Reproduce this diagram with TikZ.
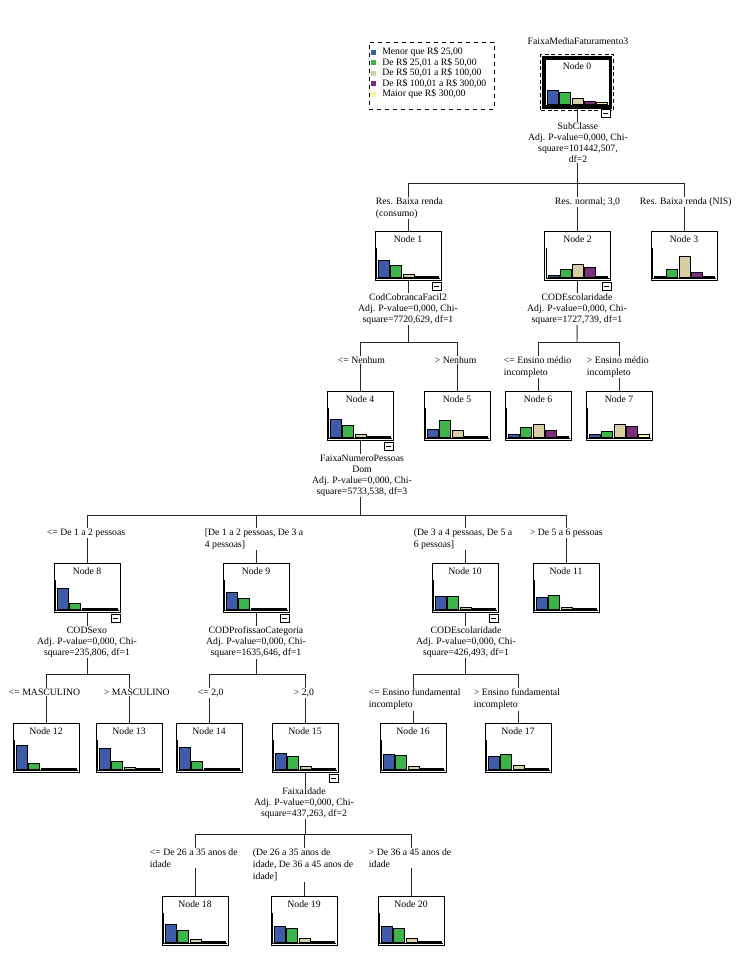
\documentclass[tikz,border=0pt]{standalone}
\usepackage{fontspec}
\setmainfont{Liberation Serif}
\usetikzlibrary{calc}
\definecolor{cb}{HTML}{3D5BA9}
\definecolor{cg}{HTML}{3DB54A}
\definecolor{ct}{HTML}{D6CFA3}
\definecolor{cp}{HTML}{7A2E7E}
\definecolor{cy}{HTML}{F9F59A}
\tikzset{
  nbox/.style={draw=black, line width=0.7pt, fill=white, minimum width=49.5pt, minimum height=36.75pt, inner sep=0pt},
  ntitle/.style={font=\fontsize{7.3}{8.25}\selectfont, inner sep=0pt},
  axisline/.style={draw=black, line width=0.7pt},
  barline/.style={draw=black, line width=0.55pt},
  mbox/.style={draw=black, line width=0.55pt, fill=white},
  edge/.style={draw=black!85, line width=0.7pt},
  split/.style={font=\fontsize{7.3}{8.25}\selectfont, align=center, fill=white, inner sep=0.5pt, anchor=north},
  elabel/.style={font=\fontsize{7.3}{9}\selectfont, align=left, fill=white, inner sep=0.5pt, anchor=north west},
  legtext/.style={font=\fontsize{7.3}{8.25}\selectfont, inner sep=0pt, anchor=west},
  legsq/.style={minimum size=3.75pt, inner sep=0pt, draw=none}
}
\newcommand{\treebox}[9]{%
  \node[nbox] (#1) at (#2,#3+24.5) {};
  \node[ntitle] (#1t) at ($(#1.north)+(0,8.5)$) {Node #4};
  \draw[axisline] ($(#1.south west)+(2,-32)$) |- ($(#1.south east)+(-1,-2)$);
  \draw[barline,fill=cb] ($(#1.south west)+(4,-3)$) rectangle ++(11,-#5);
  \draw[barline,fill=cg] ($(#1.south west)+(16.2,-3)$) rectangle ++(11,-#6);
  \draw[barline,fill=ct] ($(#1.south west)+(28.4,-3)$) rectangle ++(11,-#7);
  \draw[barline,fill=cp] ($(#1.south west)+(40.6,-3)$) rectangle ++(11,-#8);
  \draw[barline,fill=cy] ($(#1.south west)+(52.8,-3)$) rectangle ++(11,-#9);
}
\newcommand{\minusbox}[1]{%
  \draw[mbox] ($(#1.south east)+(-9,2)$) rectangle ++(9,8);
  \draw[line width=0.55pt] ($(#1.south east)+(-7,6)$) -- ++(5,0);
}
\begin{document}
\begin{tikzpicture}[x=0.75pt,y=-0.75pt]
\useasboundingbox (0,0) rectangle (737,979);
% bar coordinates
\coordinate (b0) at (577,183);
\coordinate (b1) at (408,342);
\coordinate (b2) at (577,342);
\coordinate (b4) at (360,515);
\coordinate (b8) at (87,674);
\coordinate (b9) at (256,674);
\coordinate (b10) at (465,674);
\coordinate (b15) at (305,834);
% nodes
\treebox{n0}{577}{58}{0}{14}{12}{6}{3}{2}
\treebox{n1}{408}{231}{1}{17}{12}{3}{1}{1}
\treebox{n2}{577.5}{231}{2}{2}{8}{13}{10}{1}
\treebox{n3}{684}{231}{3}{1}{8}{21}{5}{1}
\treebox{n4}{360}{391}{4}{18}{12}{3}{1}{1}
\treebox{n5}{457}{391}{5}{8}{17}{7}{1}{1}
\treebox{n6}{538}{391}{6}{3}{10}{13}{7}{1}
\treebox{n7}{619}{391}{7}{3}{6}{13}{11}{3}
\treebox{n8}{87}{563}{8}{21}{6}{1}{1}{1}
\treebox{n9}{256}{563}{9}{17}{11}{1}{1}{1}
\treebox{n10}{465}{563}{10}{13}{13}{2}{1}{1}
\treebox{n11}{566}{563}{11}{12}{14}{2}{1}{1}
\treebox{n12}{46}{723}{12}{24}{6}{1}{1}{1}
\treebox{n13}{129}{723}{13}{21}{8}{2}{1}{1}
\treebox{n14}{209}{723}{14}{22}{8}{1}{1}{1}
\treebox{n15}{305}{723}{15}{16}{13}{3}{1}{1}
\treebox{n16}{413}{723}{16}{15}{14}{3}{1}{1}
\treebox{n17}{518}{723}{17}{13}{15}{4}{1}{1}
\treebox{n18}{195}{896}{18}{18}{12}{3}{1}{1}
\treebox{n19}{304}{896}{19}{16}{14}{4}{1}{1}
\treebox{n20}{411}{896}{20}{16}{14}{4}{1}{1}
% node 0 selection frame
\draw[line width=1.5pt] ($(n0.south west)+(-0.5,0.5)$) rectangle ($(n0.north east)+(0.5,-0.5)$);
\draw[line width=0.5pt] ($(n0.south west)+(1.5,-1.5)$) rectangle ($(n0.north east)+(-1.5,1.5)$);
\draw[line width=0.6pt, densely dashed] ($(n0.south west)+(-3,3)$) rectangle ($(n0.north east)+(3,-3)$);
% edges
\draw[edge] (n0.south) -- (b0);
\draw[edge] (n1.north) |- (b0);
\draw[edge] (n2.north) |- (b0);
\draw[edge] (n3.north) |- (b0);
\draw[edge] (n1.south) -- (b1);
\draw[edge] (n4.north) |- (b1);
\draw[edge] (n5.north) |- (b1);
\draw[edge] (n2.south) -- (b2);
\draw[edge] (n6.north) |- (b2);
\draw[edge] (n7.north) |- (b2);
\draw[edge] (n4.south) -- (b4);
\draw[edge] (n8.north) |- (b4);
\draw[edge] (n9.north) |- (b4);
\draw[edge] (n10.north) |- (b4);
\draw[edge] (n11.north) |- (b4);
\draw[edge] (n8.south) -- (b8);
\draw[edge] (n12.north) |- (b8);
\draw[edge] (n13.north) |- (b8);
\draw[edge] (n9.south) -- (b9);
\draw[edge] (n14.north) |- (b9);
\draw[edge] (n15.north) |- (b9);
\draw[edge] (n10.south) -- (b10);
\draw[edge] (n16.north) |- (b10);
\draw[edge] (n17.north) |- (b10);
\draw[edge] (n15.south) -- (b15);
\draw[edge] (n18.north) |- (b15);
\draw[edge] (n19.north) |- (b15);
\draw[edge] (n20.north) |- (b15);
% minus boxes
\minusbox{n0}
\minusbox{n1}
\minusbox{n2}
\minusbox{n4}
\minusbox{n8}
\minusbox{n9}
\minusbox{n10}
\minusbox{n15}
% split texts
\node[split] (s0) at (578,122) {SubClasse\\Adj. P-value=0,000, Chi-\\square=101442,507,\\df=2};
\node[split] (s1) at (408,293) {CodCobrancaFacil2\\Adj. P-value=0,000, Chi-\\square=7720,629, df=1};
\node[split] (s2) at (577,293) {CODEscolaridade\\Adj. P-value=0,000, Chi-\\square=1727,739, df=1};
\node[split] (s4) at (362,454) {FaixaNumeroPessoas\\Dom\\Adj. P-value=0,000, Chi-\\square=5733,538, df=3};
\node[split] (s8) at (87,626) {CODSexo\\Adj. P-value=0,000, Chi-\\square=235,806, df=1};
\node[split] (s9) at (256,626) {CODProfissaoCategoria\\Adj. P-value=0,000, Chi-\\square=1635,646, df=1};
\node[split] (s10) at (466,626) {CODEscolaridade\\Adj. P-value=0,000, Chi-\\square=426,493, df=1};
\node[split] (s15) at (304,787) {FaixaIdade\\Adj. P-value=0,000, Chi-\\square=437,263, df=2};
% edge labels
\node[elabel] (l1) at (375,197) {Res. Baixa renda\\(consumo)};
\node[elabel] (l2) at (554,197) {Res. normal; 3,0};
\node[elabel] (l3) at (639,197) {Res. Baixa renda (NIS)};
\node[elabel] (l4) at (337,356) {<= Nenhum};
\node[elabel] (l5) at (434,356) {> Nenhum};
\node[elabel] (l6) at (503,356) {<= Ensino médio\\incompleto};
\node[elabel] (l7) at (586,356) {> Ensino médio\\incompleto};
\node[elabel] (l8) at (46,528) {<= De 1 a 2 pessoas};
\node[elabel] (l9) at (204,528) {[De 1 a 2 pessoas, De 3 a\\4 pessoas]};
\node[elabel] (l10) at (413,528) {(De 3 a 4 pessoas, De 5 a\\6 pessoas]};
\node[elabel] (l11) at (529,528) {> De 5 a 6 pessoas};
\node[elabel] (l12) at (8,688) {<= MASCULINO};
\node[elabel] (l13) at (103,688) {> MASCULINO};
\node[elabel] (l14) at (197,688) {<= 2,0};
\node[elabel] (l15) at (293,688) {> 2,0};
\node[elabel] (l16) at (368,688) {<= Ensino fundamental\\incompleto};
\node[elabel] (l17) at (473,688) {> Ensino fundamental\\incompleto};
\node[elabel] (l18) at (149,848) {<= De 26 a 35 anos de\\idade};
\node[elabel] (l19) at (252,848) {(De 26 a 35 anos de\\idade, De 36 a 45 anos de\\idade]};
\node[elabel] (l20) at (368,848) {> De 36 a 45 anos de\\idade};
% title and legend
\node[ntitle] (title) at (578,41) {FaixaMediaFaturamento3};
\node[draw=black, line width=0.6pt, dashed, minimum width=93.75pt, minimum height=50.25pt, inner sep=0pt] (leg) at (431.5,75.5) {};
\node[legsq, fill=cb] (q1) at (373.5,52) {};
\node[legsq, fill=cg] (q2) at (373.5,62.5) {};
\node[legsq, fill=ct] (q3) at (373.5,73) {};
\node[legsq, fill=cp] (q4) at (373.5,83.5) {};
\node[legsq, fill=cy] (q5) at (373.5,94) {};
\node[legtext] (t1) at (382,52) {Menor que R\$ 25,00};
\node[legtext] (t2) at (382,62.5) {De R\$ 25,01 a R\$ 50,00};
\node[legtext] (t3) at (382,73) {De R\$ 50,01 a R\$ 100,00};
\node[legtext] (t4) at (382,83.5) {De R\$ 100,01 a R\$ 300,00};
\node[legtext] (t5) at (382,94) {Maior que R\$ 300,00};
\end{tikzpicture}
\end{document}
